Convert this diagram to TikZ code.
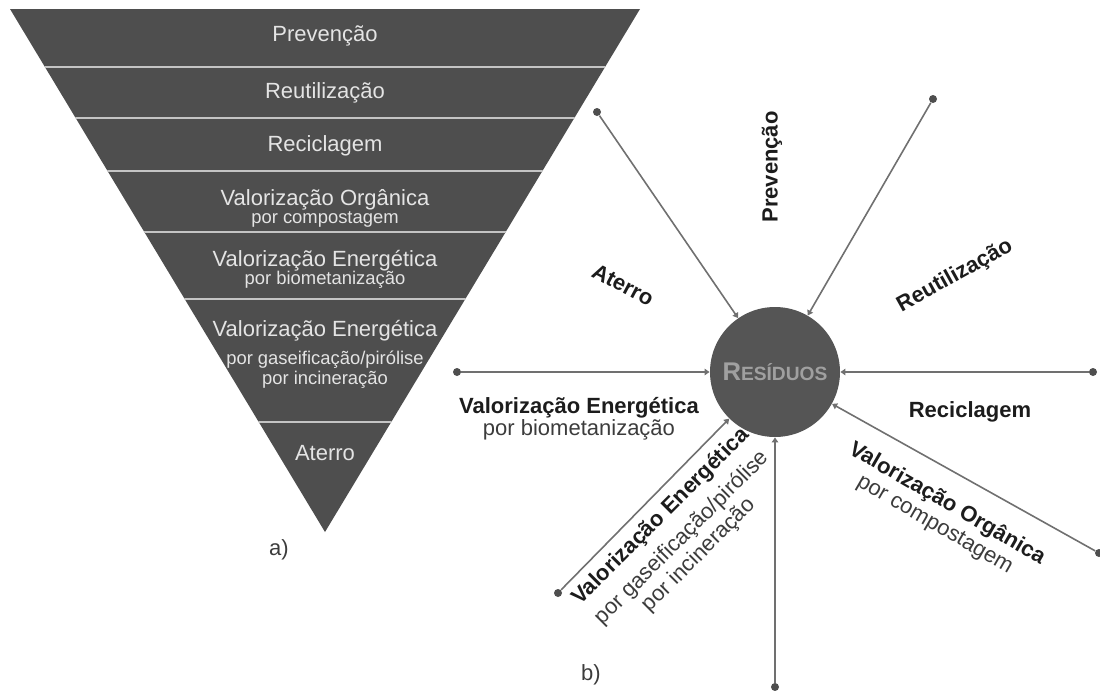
\documentclass[tikz,border=0pt]{standalone}
\usepackage{fontspec}
\setmainfont{Liberation Sans}
\usetikzlibrary{arrows.meta}
\definecolor{bandfill}{HTML}{4E4E4E}
\definecolor{bandtext}{HTML}{E4E4E4}
\definecolor{sepgray}{HTML}{C4C4C4}
\definecolor{spokegray}{HTML}{707070}
\definecolor{hubfill}{HTML}{555555}
\definecolor{hubtext}{HTML}{A0A0A0}
\definecolor{tagtext}{HTML}{1C1C1C}
\definecolor{subtext}{HTML}{3C3C3C}
\newcommand{\bandsub}[1]{{\fontsize{9.2}{11}\selectfont #1}}
\newcommand{\tagsub}[1]{{\mdseries\color{subtext}#1}}

\begin{document}
\begin{tikzpicture}[x=0.5pt,y=-0.5pt,
    band/.style={text=bandtext,font=\fontsize{11}{12}\selectfont,align=center,inner sep=0pt},
    tag/.style={text=tagtext,font=\bfseries\fontsize{11}{12}\selectfont,align=center,inner sep=0pt},
    dot/.style={circle,fill=bandfill,inner sep=0pt,minimum size=4pt},
    spoke/.style={spokegray,line width=0.8pt,-{Triangle[length=2.5pt,width=3.2pt]}},
    caption/.style={text=subtext,font=\fontsize{11}{12}\selectfont}]
\useasboundingbox (0,0) rectangle (1100,691);

% a) the inverted pyramid
\coordinate (tl) at (10,9);
\coordinate (tr) at (640,9);
\coordinate (apex) at (325,532);
\fill[bandfill] (tl) -- (tr) -- (apex) -- cycle;
\begin{scope}
  \clip (tl) -- (tr) -- (apex) -- cycle;
  \foreach \y in {67,118,171,232,299,422}
    \draw[sepgray,line width=1pt] (0,\y) -- (700,\y);
\end{scope}
\node[band] (prev) at (325,36) {Prevenção};
\node[band] (reut) at (325,93) {Reutilização};
\node[band] (recl) at (325,146) {Reciclagem};
\node[band] (vorg) at (325,208) {Valorização Orgânica\\[-3pt]\bandsub{por compostagem}};
\node[band] (vbio) at (325,269) {Valorização Energética\\[-3pt]\bandsub{por biometanização}};
\node[band] (vgas) at (325,354) {Valorização Energética\\[2pt]\bandsub{por gaseificação/pirólise}\\[-2pt]\bandsub{por incineração}};
\node[band] (ater) at (325,453) {Aterro};
\node[caption] (capa) at (279,550) {a)};

% b) the wheel round the waste
\node[circle,fill=hubfill,minimum size=65pt,inner sep=0pt,text=hubtext,font=\bfseries] (res) at (775,372)
  {\fontsize{12.8}{12}\selectfont R\fontsize{9.6}{9}\selectfont ESÍDUOS};
\node[dot] (dat) at (597,112) {};
\node[dot] (dre) at (933,99) {};
\node[dot] (drc) at (1093,372) {};
\node[dot] (dor) at (1099,553) {};
\node[dot] (dba) at (775,687) {};
\node[dot] (dga) at (558,593) {};
\node[dot] (dbi) at (457,372) {};
\foreach \e in {dat,dre,drc,dor,dba,dga,dbi}
  \draw[spoke] (\e) -- (res);

% labels between the spokes
\node[tag,rotate=90] (lprev) at (772,167) {Prevenção};
\node[tag,rotate=29] (lreut) at (955,276) {Reutilização};
\node[tag] (lrecl) at (970,412) {Reciclagem};
\node[tag,rotate=-30] (lorg) at (941,514) {Valorização Orgânica\\[0pt]\tagsub{por compostagem}};
\node[tag,rotate=45] (lgas) at (680,536) {Valorização Energética\\[3pt]\tagsub{por gaseificação/pirólise}\\[0pt]\tagsub{por incineração}};
\node[tag] (lbio) at (579,419) {Valorização Energética\\[-1pt]\tagsub{por biometanização}};
\node[tag,rotate=-28] (later) at (623,285) {Aterro};
\node[caption] (capb) at (591,675) {b)};
\end{tikzpicture}
\end{document}
